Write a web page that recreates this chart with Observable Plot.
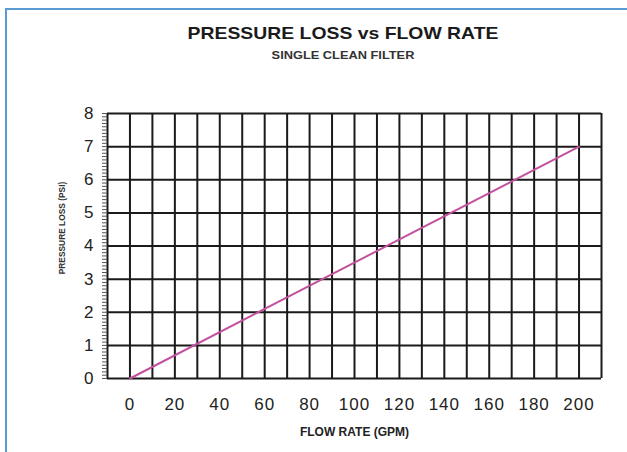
<!DOCTYPE html>
<html>
<head>
<meta charset="utf-8">
<script src="https://cdn.jsdelivr.net/npm/d3@7"></script>
<script src="https://cdn.jsdelivr.net/npm/@observablehq/plot@0.6"></script>
<style>
  html, body { margin: 0; padding: 0; background: #fff; }
  body { width: 627px; height: 452px; position: relative; overflow: hidden; font-family: "Liberation Sans", Arial, sans-serif; }
  #border { position: absolute; left: 5px; top: 8px; width: 700px; height: 500px; border-left: 2px solid #5b9bd5; border-top: 2px solid #5b9bd5; }
  #header { position: relative; height: 85px; }
  #title { position: absolute; left: 0; width: 686px; top: 24px; text-align: center; font-weight: bold; font-size: 17px; color: #1a1a1a; transform: scaleX(1.14); transform-origin: 343px 0; white-space: nowrap; }
  #subtitle { position: absolute; left: 0; width: 686px; top: 49px; text-align: center; font-weight: bold; font-size: 10.5px; color: #333; transform: scaleX(1.22); transform-origin: 343px 0; white-space: nowrap; }
  #chart { position: relative; }
  #chart svg [aria-label="x-axis tick label"] text { letter-spacing: 1px; }
</style>
</head>
<body>
<div id="border"></div>
<div id="header">
  <div id="title">PRESSURE LOSS vs FLOW RATE</div>
  <div id="subtitle">SINGLE CLEAN FILTER</div>
</div>
<div id="chart"></div>
<script>
const flowRate = [0, 200];
const pressureLoss = [0, 7];
const xTickLabels = [0, 20, 40, 60, 80, 100, 120, 140, 160, 180, 200];
const yTickLabels = [0, 1, 2, 3, 4, 5, 6, 7, 8];
const xGridLines = [-10, 0, 10, 20, 30, 40, 50, 60, 70, 80, 90, 100, 110, 120, 130, 140, 150, 160, 170, 180, 190, 200, 210];
const yGridLines = [0, 1, 2, 3, 4, 5, 6, 7, 8];
const yMinorTicks = d3.range(0, 81).map(i => i / 10);
const xLabel = "FLOW RATE (GPM)";
const yLabel = "PRESSURE LOSS (PSI)";

const series = flowRate.map((f, i) => ({flow: f, loss: pressureLoss[i]}));

const chart = Plot.plot({
  width: 627,
  height: 367,
  marginLeft: 107,
  marginRight: 26,
  marginTop: 28,
  marginBottom: 74,
  style: {fontFamily: "'Liberation Sans', Arial, sans-serif", fontSize: "17px", color: "#222", background: "transparent"},
  x: {domain: [-10, 210]},
  y: {domain: [0, 8]},
  marks: [
    Plot.gridX(xGridLines, {stroke: "#1a1a1a", strokeOpacity: 1, strokeWidth: 2}),
    Plot.gridY(yGridLines, {stroke: "#1a1a1a", strokeOpacity: 1, strokeWidth: 2}),
    Plot.axisY(yMinorTicks, {tickSize: 5, tickFormat: () => "", stroke: "#555", label: null}),
    Plot.axisY(yTickLabels, {tickSize: 0, tickPadding: 14, label: null, fill: "#222"}),
    Plot.axisX(xTickLabels, {tickSize: 0, tickPadding: 19, label: null, fill: "#222"}),
    Plot.line(series, {x: "flow", y: "loss", stroke: "#c2519e", strokeWidth: 2}),
    Plot.text([xLabel], {frameAnchor: "bottom", dy: 54, fontSize: 12, fontWeight: "bold", fill: "#222", lineAnchor: "middle", textAnchor: "middle"}),
    Plot.text([yLabel], {frameAnchor: "left", dx: -45, dy: -18, rotate: -90, fontSize: 8.4, fontWeight: "bold", fill: "#333", lineAnchor: "middle", textAnchor: "middle"})
  ]
});
document.getElementById("chart").appendChild(chart);
</script>
</body>
</html>
